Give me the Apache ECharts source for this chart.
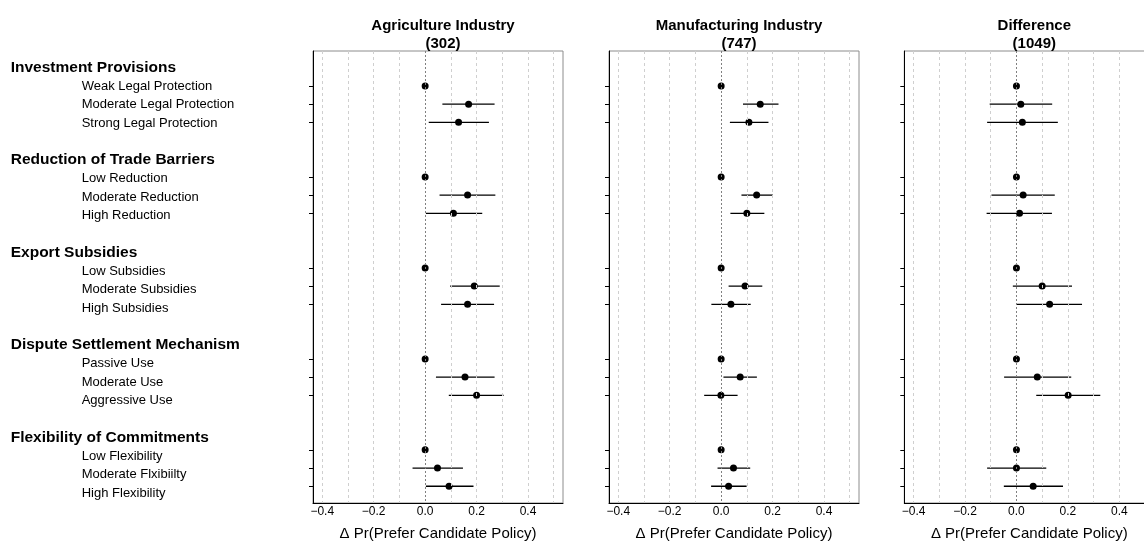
<!DOCTYPE html>
<html>
<head>
<meta charset="utf-8">
<script src="https://cdn.jsdelivr.net/npm/echarts@6/dist/echarts.min.js"></script>
<style>
  html, body { margin: 0; padding: 0; background: #fff; }
  #chart { width: 1144px; height: 542px; }
</style>
</head>
<body>
<div id="chart"></div>
<script>
// Attribute groups and their levels (first level of each group is the baseline)
const groupNames = [
  'Investment Provisions',
  'Reduction of Trade Barriers',
  'Export Subsidies',
  'Dispute Settlement Mechanism',
  'Flexibility of Commitments'
];
const levelNames = [
  ['Weak Legal Protection', 'Moderate Legal Protection', 'Strong Legal Protection'],
  ['Low Reduction', 'Moderate Reduction', 'High Reduction'],
  ['Low Subsidies', 'Moderate Subsidies', 'High Subsidies'],
  ['Passive Use', 'Moderate Use', 'Aggressive Use'],
  ['Low Flexibility', 'Moderate Flxibiilty', 'High Flexibility']
];
const panelTitles = [
  'Agriculture Industry\n(302)',
  'Manufacturing Industry\n(747)',
  'Difference\n(1049)'
];
const xAxisTitle = '\u0394 Pr(Prefer Candidate Policy)';
const xTickLabels = [-0.4, -0.2, 0, 0.2, 0.4];
const gridValues = [-0.4, -0.3, -0.2, -0.1, 0, 0.1, 0.2, 0.3, 0.4, 0.5];

// Estimates with 95% intervals, one entry per level (baselines have no interval)
const agrEst = [0, 0.169, 0.130,  0, 0.165, 0.110,  0, 0.191, 0.165,  0, 0.155, 0.200,  0, 0.048, 0.093];
const agrLo  = [null, 0.067, 0.014,  null, 0.056, 0.003,  null, 0.097, 0.062,  null, 0.042, 0.092,  null, -0.049, 0.003];
const agrHi  = [null, 0.270, 0.248,  null, 0.273, 0.222,  null, 0.290, 0.268,  null, 0.270, 0.305,  null, 0.147, 0.188];

const mfgEst = [0, 0.152, 0.108,  0, 0.138, 0.100,  0, 0.093, 0.038,  0, 0.074, -0.001,  0, 0.048, 0.029];
const mfgLo  = [null, 0.085, 0.034,  null, 0.079, 0.036,  null, 0.029, -0.038,  null, 0.009, -0.066,  null, -0.014, -0.039];
const mfgHi  = [null, 0.223, 0.184,  null, 0.201, 0.168,  null, 0.160, 0.115,  null, 0.139, 0.064,  null, 0.113, 0.099];

const difEst = [0, 0.017, 0.023,  0, 0.026, 0.012,  0, 0.100, 0.129,  0, 0.081, 0.201,  0, 0.000, 0.065];
const difLo  = [null, -0.104, -0.114,  null, -0.097, -0.116,  null, -0.014, 0.001,  null, -0.048, 0.077,  null, -0.114, -0.049];
const difHi  = [null, 0.139, 0.161,  null, 0.149, 0.138,  null, 0.216, 0.255,  null, 0.213, 0.326,  null, 0.116, 0.181];

const panels = [
  { est: agrEst, lo: agrLo, hi: agrHi },
  { est: mfgEst, lo: mfgLo, hi: mfgHi },
  { est: difEst, lo: difLo, hi: difHi }
];

// Row layout: each group takes a header row, three level rows and a spacer row
const headerRows = [];
const levelRows = [];
const rowText = {};
groupNames.forEach((g, gi) => {
  const h = 1 + gi * 5;
  headerRows.push(h);
  rowText[h] = { kind: 'h', text: g };
  levelNames[gi].forEach((l, li) => {
    levelRows.push(h + 1 + li);
    rowText[h + 1 + li] = { kind: 'l', text: l };
  });
});
const labelRows = headerRows.concat(levelRows).sort((a, b) => a - b);
const yMin = 0.08, yMax = 24.92;
const xMin = -0.436, xMax = 0.536;

const FONT = '"Liberation Sans", Arial, Helvetica, sans-serif';
const panelLefts = [313, 609, 904.3];
const panelW = 250, panelTop = 51, panelH = 452;

const fmtTick = v => {
  const s = Math.abs(v).toFixed(1);
  return v < 0 ? '\u2212' + s : s;
};

const grids = panelLefts.map(l => ({
  left: l, top: panelTop, width: panelW, height: panelH,
  outerBoundsMode: 'none',
  show: true, borderColor: '#8c8c8c', borderWidth: 1, backgroundColor: 'transparent'
}));
// row-label strip
grids.push({ left: 313, top: 50.5, width: 1, height: 459.8, show: false, outerBoundsMode: 'none' });

const xAxes = panelLefts.map((l, i) => ({
  gridIndex: i, type: 'value', min: xMin, max: xMax,
  axisLine: { show: true, onZero: false, lineStyle: { color: '#000', width: 1 } },
  axisTick: { show: false },
  splitLine: { show: false },
  axisLabel: {
    customValues: xTickLabels, formatter: fmtTick, margin: 3,
    fontSize: 12, color: '#000', fontFamily: FONT
  },
  name: xAxisTitle, nameLocation: 'middle', nameGap: 23,
  nameTextStyle: { fontSize: 15, color: '#000', fontFamily: FONT }
}));
xAxes.push({ gridIndex: 3, type: 'value', min: xMin, max: xMax, show: false });

const yAxes = panelLefts.map((l, i) => ({
  gridIndex: i, type: 'value', inverse: true, min: yMin, max: yMax,
  axisLine: { show: true, onZero: false, lineStyle: { color: '#000', width: 1 } },
  axisTick: { show: true, customValues: levelRows, length: 4, lineStyle: { color: '#000', width: 1 } },
  axisLabel: { show: false },
  splitLine: { show: false }
}));
yAxes.push({
  gridIndex: 3, type: 'value', inverse: true, min: yMin, max: yMax,
  axisLine: { show: false }, axisTick: { show: false }, splitLine: { show: false },
  axisLabel: {
    customValues: labelRows, align: 'left', margin: 302.3,
    formatter: v => {
      const r = rowText[Math.round(v)];
      return r ? '{' + r.kind + '|' + r.text + '}' : '';
    },
    rich: {
      h: { fontSize: 15.5, fontWeight: 'bold', color: '#000', fontFamily: FONT },
      l: { fontSize: 13, color: '#000', fontFamily: FONT, padding: [0, 0, 0, 71] }
    }
  }
});

const series = [];
panels.forEach((p, i) => {
  const ciData = [];
  const ptData = [];
  p.est.forEach((e, k) => {
    const row = levelRows[k];
    ptData.push([e, row]);
    if (p.lo[k] != null) ciData.push([p.lo[k], p.hi[k], row]);
  });
  series.push({
    type: 'custom', xAxisIndex: i, yAxisIndex: i, z: 2,
    encode: { x: [0, 1], y: 2 },
    data: ciData,
    renderItem: (params, api) => {
      const a = api.coord([api.value(0), api.value(2)]);
      const b = api.coord([api.value(1), api.value(2)]);
      return {
        type: 'line',
        shape: { x1: a[0], y1: a[1], x2: b[0], y2: b[1] },
        style: { stroke: '#000', lineWidth: 1.3 }
      };
    }
  });
  series.push({
    type: 'scatter', xAxisIndex: i, yAxisIndex: i, z: 3,
    symbol: 'circle', symbolSize: 7,
    itemStyle: { color: '#000', opacity: 1 },
    data: ptData,
    markLine: {
      silent: true, symbol: ['none', 'none'], animation: false,
      label: { show: false },
      lineStyle: { color: '#cfcfcf', type: [3, 3], width: 1 },
      data: gridValues.map(v => v === 0
        ? { xAxis: 0, lineStyle: { color: '#808080', type: [2, 2], width: 1 } }
        : { xAxis: v })
    }
  });
});

const titles = panelTitles.map((t, i) => ({
  text: t, left: panelLefts[i] + panelW / 2, top: 12, textAlign: 'center',
  textStyle: { fontSize: 15, fontWeight: 'bold', color: '#000', fontFamily: FONT, lineHeight: 18 }
}));

const chart = echarts.init(document.getElementById('chart'));
chart.setOption({
  animation: false,
  backgroundColor: '#fff',
  title: titles,
  grid: grids,
  xAxis: xAxes,
  yAxis: yAxes,
  series: series
});
</script>
</body>
</html>
